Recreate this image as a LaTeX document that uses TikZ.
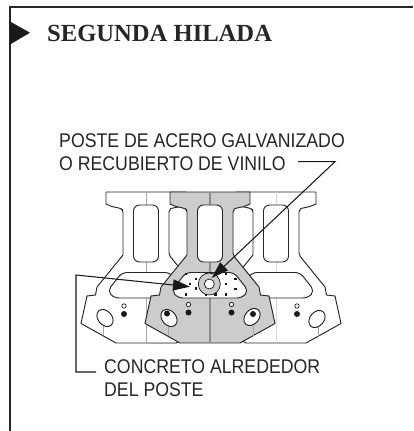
\documentclass[tikz,border=0pt]{standalone}
\usepackage{fontspec}
\setmainfont{Liberation Sans}
\newfontfamily\headfont{Liberation Serif}
\usetikzlibrary{arrows.meta}
\tikzset{
  lbl/.style={anchor=base west,inner sep=0pt,font=\fontsize{17.7}{17.7}\selectfont,text=black!85},
  head/.style={anchor=base west,inner sep=0pt,font=\headfont\bfseries\fontsize{24.6}{24.6}\selectfont,text=black!85},
  blockline/.style={line width=0.95pt,draw=black!85,line join=round},
  lead/.style={line width=1.05pt,draw=black!90},
  bigtip/.style={-{Triangle[length=17pt,width=11pt]}},
  pin/.style={line width=1pt,draw=black!35}
}
\newcommand{\blockoutline}{
  (-40,192) -- (40,192) -- (40,204) -- (34,206.5) -- (25,208.5) [rounded corners=2pt] -- (23,210) -- (23,255) [sharp corners] -- (49,287) -- (50.5,295) -- (59,296) -- (65,323.5) -- (30,343) -- (-30,343) -- (-65,323.5) -- (-59,296) -- (-50.5,295) -- (-49,287) -- (-23,255) [rounded corners=2pt] -- (-23,210) -- (-25,208.5) [sharp corners] -- (-34,206.5) -- (-40,204) -- cycle
}
\newcommand{\upperwin}{(-12.5,205) [rounded corners=6pt] -- (12.5,205) -- (12.5,262) -- (-12.5,262) -- cycle}
\newcommand{\lowerwin}{(-24,272.5) [rounded corners=5pt] -- (24,272.5) -- (38.5,291) -- (32,298) -- (-32,298) -- (-38.5,291) -- cycle}
\begin{document}
\begin{tikzpicture}[x=1pt,y=-1pt]
\useasboundingbox (0,0) rectangle (413,431);
\fill[white] (0,0) rectangle (413,431);
% frame
\draw[line width=1.6pt,draw=black!85] (10,431) -- (10,7) -- (413,7);
\fill[black!90] (10,21.5) -- (30,32.7) -- (10,44.5) -- cycle;
\node[head] (title) at (47,41.5) {SEGUNDA HILADA};
% left block
\begin{scope}[xshift=146pt]
\draw[blockline,fill=white] \blockoutline;
\draw[line width=1pt,draw=black!35] (0,343) -- (30,343);
\draw[pin] (0,192) -- (0,343);
\draw[blockline,fill=white] \upperwin;
\draw[blockline,fill=white] \lowerwin;
\draw[line width=0.6pt] (-22,306) circle (2.2);
\fill[black!90] (-22,314) circle (3);
\draw[pin] (-43,326) -- (-43,335);
\draw[blockline,fill=white,rotate around={-50:(-41,318)}] (-41,318) ellipse (9.5 and 7);
\end{scope}
% right block
\begin{scope}[xshift=276pt]
\draw[blockline,fill=white] \blockoutline;
\draw[line width=1pt,draw=black!30] (-30,343) -- (0,343);
\draw[pin,draw=black!15] (0,192) -- (0,343);
\draw[blockline,fill=white] \upperwin;
\draw[blockline,fill=white] \lowerwin;
\draw[line width=0.6pt] (21,306) circle (2.2);
\fill[black!90] (21,314) circle (3);
\draw[pin] (42,326) -- (42,337);
\draw[blockline,fill=white,rotate around={50:(41,319)}] (41,319) ellipse (9.5 and 7);
\end{scope}
% centre block
\begin{scope}[xshift=210pt]
\draw[blockline,fill=black!20] \blockoutline;
\draw[line width=1pt,draw=black!30] (-30,343) -- (30,343);
\draw[pin,draw=black!45,line width=1.2pt] (0,192) -- (0,343);
\draw[blockline,fill=white] \upperwin;
\draw[blockline,fill=white] \lowerwin;
\foreach \x in {-21.5,21.5}{
  \draw[line width=0.6pt,fill=white] (\x,304.5) circle (2.2);
  \fill[black!90] (\x,312.5) circle (3);
}
\draw[pin] (-42,326) -- (-42,336);
\draw[pin] (43,326) -- (43,336);
\draw[blockline,fill=white,rotate around={-50:(-41,318)}] (-41,318) ellipse (9.5 and 7);
\draw[blockline,fill=white,rotate around={50:(42,317)}] (42,317) ellipse (9.5 and 7);
\fill[black!90] (-43,313.5) circle (3);
\fill[black!90] (43,314) circle (3);
\foreach \x/\y in {15.7/274,25.3/279,15.7/284,25.3/289,15.7/294.3,-14.3/279,-14.3/288.5,-24.3/274,-24.3/294.3,-4.3/294.3,-4.3/274,5.5/294.3,-20/284}{
  \fill[black!90] (\x-1.2,\y-1.2) rectangle (\x+1.2,\y+1.2);
}
\draw[line width=0.6pt,fill=black!20] (-0.7,284) circle (11);
\draw[line width=0.6pt,fill=white] (-0.7,284) circle (5);
\end{scope}
% labels
\node[lbl] (l1) at (59,147) {\scalebox{1}[1.12]{POSTE DE ACERO GALVANIZADO}};
\node[lbl] (l2) at (59,170) {\scalebox{1}[1.12]{O RECUBIERTO DE VINILO}};
\node[lbl] (l3) at (104,373) {\scalebox{1}[1.12]{CONCRETO ALREDEDOR}};
\node[lbl] (l4) at (104,396) {\scalebox{1}[1.12]{DEL POSTE}};
% leaders
\coordinate (a0) at (298,161.7);
\coordinate (a1) at (335,161.7);
\coordinate (a2) at (211.7,278);
\coordinate (b0) at (96,372);
\coordinate (b1) at (76,372);
\coordinate (b2) at (76,275);
\coordinate (b3) at (190,286.7);
\draw[lead,bigtip] (a0) -- (a1) -- (a2);
\draw[lead,bigtip] (b0) -- (b1) -- (b2) -- (b3);
\end{tikzpicture}
\end{document}
